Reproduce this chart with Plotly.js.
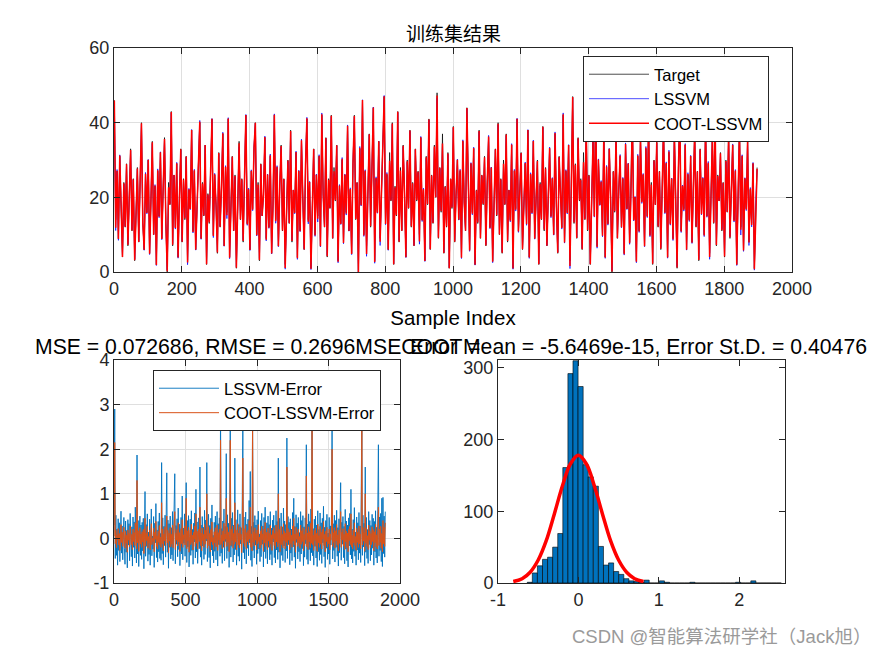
<!DOCTYPE html>
<html>
<head>
<meta charset="utf-8">
<script src="https://cdn.plot.ly/plotly-3.0.1.min.js"></script>
<style>html,body{margin:0;padding:0;background:#fff;}#chart{width:875px;height:656px;}</style>
</head>
<body>
<div id="chart"></div>
<script>
// ---- data (training set, every 4th sample) ----
const target = [
46,14,27,9,31,18,4,24,12,29,7,20,33,11,25,3,17,28,8,22,40,13,6,26,16,
30,5,19,35,10,23,2,27,15,32,9,21,36,13,0,24,18,43,7,26,12,29,4,20,33,
8,25,14,31,3,22,17,38,11,27,6,19,30,40,9,24,15,34,2,21,13,29,41,10,26,
18,5,32,12,23,37,7,28,16,41,4,20,31,11,26,1,19,35,14,25,8,30,42,13,22,
6,27,17,33,40,10,24,3,29,15,21,36,9,26,12,31,5,18,42,14,28,7,23,34,11,
25,2,19,30,13,38,8,22,16,32,4,27,11,35,20,6,29,41,14,24,1,18,33,10,26,
15,31,7,42,21,12,36,4,25,17,42,9,28,19,34,3,23,13,30,8,26,16,39,11,22,
5,29,42,14,24,0,33,18,46,10,27,7,21,37,12,31,44,3,25,16,35,9,20,30,47,
13,26,6,32,19,40,2,23,15,43,8,28,11,34,21,4,30,17,38,12,24,7,33,19,27,
10,36,14,22,3,31,18,41,6,26,13,34,20,48,9,28,16,37,5,23,12,32,1,25,17,
39,8,21,30,14,27,4,35,19,11,44,24,6,29,16,33,2,22,13,38,9,26,18,31,7,
24,36,12,28,3,20,33,15,40,10,25,5,30,18,37,8,22,14,34,1,27,17,41,11,23,
32,6,19,29,13,38,4,26,16,35,9,22,30,2,24,14,39,11,28,7,20,33,15,25,10,
37,18,5,31,21,12,42,8,27,16,34,3,23,47,13,29,9,36,19,25,6,32,14,40,11,
26,2,21,35,15,46,7,30,18,24,10,38,4,28,13,33,20,0,27,16,37,9,22,31,12,
25,5,34,17,29,8,23,42,14,20,3,31,11,36,19,26,7,33,15,41,10,24,2,30,18,
35,12,27,6,22,39,16,29,4,32,13,25,9,37,20,1,28,43,11,23,17,34,6,26,14,
31,8,21,38,12,27,3,33,18,25,10,40,15,29,5,22,36,13,44,7,26,19,32,11,24,
4,30,16,37,9,23,34,14,27,2,20,39,12,31,6,25,17,35,8,22,13,29,1,19,28
];
const cootErr = [
.05,2.15,-.12,.18,-.21,.08,-.03,.22,-.15,.11,-.27,.04,.31,-.09,.14,-.18,.02,.25,-.06,-.22,.16,-.11,.07,-.31,.19,
-.04,.12,-.19,.28,.01,-.14,.09,-.25,.21,-.07,.13,-.16,.35,-.02,-.23,1.30,-.1,.17,-.29,.03,.24,-.13,.1,-.2,.15,
-.08,.2,-.34,.07,.45,-.17,.12,-.05,.27,-.22,.04,-.11,.19,-.26,.09,.33,-.14,0,-.07,.23,-.3,.14,-.02,.38,-.18,
.06,-.24,.16,-.09,.29,-.15,.03,-.2,.8,-.12,.21,-.28,.1,-.05,.26,-.16,.07,.5,-.1,.18,-.33,.12,-.06,.24,-.19,
.09,-.13,.3,-.21,.02,.15,.6,-.25,.11,-.04,.2,-.17,.35,-.08,.13,-.29,.05,.22,-.12,.42,-.2,.08,-.03,.27,-.15,
.1,.9,-.23,.17,-.06,.25,-.31,.04,.19,-.14,.32,-.09,.07,-.26,.14,-.02,.28,-.18,.55,-.11,.16,-.24,.03,.21,-.07,
.7,-.16,.12,-.28,.23,-.05,.09,-.2,.31,-.13,.18,-.01,1.0,-.22,.06,.26,-.17,.11,-.3,.2,-.08,.37,-.14,.02,-.25,
.15,-.1,.24,-.19,.05,.3,-.27,.13,-.04,.21,-.15,2.2,-.12,.08,-.23,.17,-.06,.34,-.2,.1,-.02,.9,-.18,.25,-.09,
.14,-.3,.07,2.2,-.16,.2,-.05,.28,-.22,.11,-.13,.8,-.08,.19,-.26,.04,.33,-.15,.12,-.21,.26,-.03,.09,-.32,.16,
1.8,-.11,.22,-.18,.06,.29,-.24,.13,-.07,.18,-.14,.4,-.02,.7,-.2,.1,-.28,2.55,-.09,.15,-.17,.24,-.04,.11,-.26,
.19,-.12,.31,-.07,.03,-.22,.17,-.15,.27,-.03,.1,-.29,.21,-.1,.36,-.18,.05,.14,-.25,.23,-.06,.12,-.2,.29,-.13,
.08,-.27,.18,-.01,.24,-.16,.11,-.23,.3,-.08,.15,-.19,1.0,-.11,.2,-.3,.06,.27,-.14,.09,-.21,.33,-.05,.16,-.24,
.12,-.09,1.6,-.17,.22,-.04,.14,-.26,.19,-.12,.07,-.2,.28,-.06,.45,-.15,.1,-.31,.25,-.02,.13,-.18,.21,-.1,.04,
-.22,.3,-.13,.17,-.07,.24,-.28,.09,-.16,.2,-.03,1.4,-.19,.12,-.25,.26,-.08,.15,-.21,.34,-.11,2.6,-.14,.07,-.27,
.18,-.05,.23,-.17,.11,-.29,.32,-.1,.06,-.2,.27,-.13,.14,-.24,.2,-.02,.38,-.16,.09,-.3,.16,-.07,.25,-.19,.03,
-.12,.21,-.26,.1,-.04,.29,2.0,-.18,.13,-.09,.24,-.22,.17,-.06,.31,-.15,.08,-.28,.19,-.11,.26,.6,-.2,.14,-.03,
.22,-.17,.09,-.25,.33,-.08,.16,-.21,.12,-.3,.2,-.05,.27,-.14,.55,-.19,.07,-.24,.18,-.1,.35,-.16,.04,-.27,.23,
-.09,.14,-.2,.28,-.12,.1,-.23,.19,2.5,-.15,.25,-.06,.13,-.29,1.0,-.11,.22,-.18,.06,-.25,.3,-.04,.17,-.21,.11,
-.14,.26,-.07,.2,-.28,.15,-.1,.32,-.19,.08,-.24,.18,.7,-.16,.21,-.09,.27,-.22,.11,-.3,.4,-.12,.25,-.18,.35
];
const lssvmErr = [
.3,2.9,-.45,.52,-.38,.21,-.6,.44,-.27,.35,-.52,.1,.61,-.33,.28,-.48,.15,.47,-.22,-.58,.39,-.31,.18,-.66,.42,
-.15,.33,-.5,.56,-.09,-.41,.26,-.62,.48,-.2,.37,-.44,.7,-.12,-.55,1.87,-.35,.4,-.63,.12,.5,-.38,.3,-.47,.36,
-.28,.45,-.68,.22,1.05,-.4,.31,-.18,.55,-.51,.14,-.36,.43,-.6,.25,.66,-.39,.05,-.24,.49,-.65,.34,-.1,.78,-.43,
.19,-.53,.38,-.3,.57,-.45,.11,-.49,1.7,-.34,.46,-.59,.27,-.16,.52,-.42,.2,1.47,-.31,.41,-.67,.33,-.2,.5,-.46,
.24,-.37,.6,-.5,.08,.35,1.45,-.57,.29,-.13,.44,-.41,.68,-.25,.32,-.61,.15,.47,-.35,.95,-.48,.23,-.11,.55,-.4,
.28,1.25,-.54,.4,-.19,.51,-.64,.13,.43,-.38,.62,-.27,.2,-.58,.34,-.08,.57,-.44,1.1,-.3,.37,-.56,.1,.46,-.23,
1.6,-.42,.3,-.6,.49,-.17,.25,-.47,.63,-.36,.41,-.06,1.7,-.52,.17,.54,-.43,.29,-.66,.45,-.26,.75,-.39,.07,-.55,
.36,-.29,.5,-.48,.14,.6,-.62,.33,-.14,.46,-.4,2.8,-.33,.22,-.56,.39,-.2,.66,-.5,.27,-.07,1.9,-.45,.53,-.28,
.34,-.65,.19,2.7,-.42,.45,-.18,.58,-.53,.3,-.37,1.8,-.25,.42,-.6,.12,.64,-.4,.31,-.51,.55,-.12,.24,-.69,.38,
2.55,-.32,.48,-.46,.18,.59,-.57,.32,-.22,.43,-.39,.85,-.1,1.5,-.49,.27,-.63,2.7,-.27,.36,-.44,.51,-.15,.3,-.58,
.42,-.34,.61,-.24,.1,-.52,.4,-.41,.56,-.13,.28,-.64,.47,-.3,.7,-.45,.16,.35,-.57,.5,-.2,.31,-.48,.6,-.36,
.23,-.6,.41,-.08,.52,-.43,.29,-.55,.62,-.26,.38,-.47,1.8,-.31,.45,-.66,.19,.57,-.38,.26,-.5,.68,-.17,.39,-.54,
.31,-.28,2.25,-.45,.49,-.14,.36,-.59,.44,-.33,.21,-.5,.58,-.19,.9,-.42,.27,-.67,.53,-.09,.34,-.46,.47,-.3,.13,
-.52,.6,-.35,.4,-.23,.51,-.61,.26,-.42,.46,-.12,2.1,-.47,.32,-.58,.55,-.25,.38,-.5,.66,-.32,2.8,-.39,.22,-.6,
.43,-.18,.5,-.44,.3,-.63,.62,-.3,.2,-.49,.57,-.36,.35,-.56,.45,-.1,.72,-.41,.25,-.65,.4,-.22,.54,-.47,.12,
-.35,.47,-.58,.28,-.15,.59,2.7,-.46,.33,-.27,.52,-.53,.4,-.2,.63,-.4,.24,-.62,.44,-.32,.55,1.25,-.49,.36,-.13,
.49,-.43,.27,-.57,.65,-.24,.39,-.5,.3,-.64,.46,-.17,.56,-.37,1.1,-.46,.21,-.55,.42,-.29,.69,-.4,.14,-.6,.48,
-.26,.35,-.48,.58,-.33,.28,-.54,.44,2.7,-.38,.52,-.19,.34,-.61,1.6,-.31,.47,-.45,.2,-.56,.6,-.14,.4,-.5,.29,
-.37,.54,-.22,.45,-.6,.38,-.3,.62,-.44,.25,-.55,.43,2.1,-.4,.48,-.27,.56,-.52,.9,-.63,.92,-.34,.5,-.42,.6
];
const sampleStep = 4;
// histogram of COOT-LSSVM errors (50 bins)
const histBinStart = -0.636, histBinWidth = 0.0632;
const histCounts = [1,14,24,33,36,50,69,161,292,310,274,165,148,135,51,25,28,16,12,6,3,2,1,4,0,
                    0,3,1,0,0,0,0,1,0,0,0,0,0,0,0,0,1,0,0,3,0,0,0,0,0];
// normal fit curve
const fitX = [-0.81,-0.7,-0.6,-0.5,-0.4,-0.3,-0.2,-0.1,0,0.1,0.2,0.3,0.4,0.5,0.6,0.7,0.81];
const fitY = [2,6,15,32,59,96,135,166,178,166,135,96,59,32,15,6,2];

const titleTop = '训练集结果';
const titleLeft = 'MSE = 0.072686, RMSE = 0.2696MSECOOT =';
const titleRight = 'Error Mean = -5.6469e-15, Error St.D. = 0.40476';
const watermark = 'CSDN @智能算法研学社（Jack旭）';

// ---- build ----
const idx = target.map((_, i) => 1 + sampleStep * i);
const lssvmPred = target.map((t, i) => t - lssvmErr[i]);
const cootPred = target.map((t, i) => t - cootErr[i]);
const binCenters = histCounts.map((_, k) => histBinStart + histBinWidth * (k + 0.5));

const W = 875, H = 656;
const px = v => v / W, py = v => 1 - v / H;
const FONT = 'Liberation Sans, Arial, Helvetica, sans-serif';
const AX = '#262626';
const tickFont = {family: FONT, size: 18, color: AX};

function axisBase(extra) {
  return Object.assign({
    showline: true, linecolor: AX, linewidth: 1, mirror: 'ticks',
    ticks: 'inside', ticklen: 6, tickcolor: AX, tickwidth: 1,
    tickfont: tickFont, zeroline: false, fixedrange: true,
    gridcolor: '#dfdfdf', gridwidth: 1
  }, extra);
}

const traces = [
  {x: idx, y: target, type: 'scatter', mode: 'lines', name: 'Target',
   line: {color: '#000000', width: 0.7}, xaxis: 'x', yaxis: 'y', legend: 'legend'},
  {x: idx, y: lssvmPred, type: 'scatter', mode: 'lines', name: 'LSSVM',
   line: {color: '#0000ff', width: 0.7}, xaxis: 'x', yaxis: 'y', legend: 'legend'},
  {x: idx, y: cootPred, type: 'scatter', mode: 'lines', name: 'COOT-LSSVM',
   line: {color: '#ff0000', width: 1.5}, xaxis: 'x', yaxis: 'y', legend: 'legend'},
  {x: idx, y: lssvmErr, type: 'scatter', mode: 'lines', name: 'LSSVM-Error',
   line: {color: '#0072BD', width: 0.9}, xaxis: 'x2', yaxis: 'y2', legend: 'legend2'},
  {x: idx, y: cootErr, type: 'scatter', mode: 'lines', name: 'COOT-LSSVM-Error',
   line: {color: '#D95319', width: 1.0}, xaxis: 'x2', yaxis: 'y2', legend: 'legend2'},
  {x: binCenters, y: histCounts, type: 'bar', width: histBinWidth, showlegend: false,
   marker: {color: '#0072BD', line: {color: '#000000', width: 0.6}},
   xaxis: 'x3', yaxis: 'y3'},
  {x: fitX, y: fitY, type: 'scatter', mode: 'lines', showlegend: false,
   line: {color: '#ff0000', width: 3.5, shape: 'spline'}, xaxis: 'x3', yaxis: 'y3'}
];

const legendBase = {
  bgcolor: '#ffffff', bordercolor: AX, borderwidth: 1,
  font: {family: FONT, size: 16.5, color: '#000'},
  xanchor: 'left', yanchor: 'top', itemwidth: 60, tracegroupgap: 0,
  itemclick: false, itemdoubleclick: false
};

const layout = {
  width: W, height: H,
  margin: {l: 0, r: 0, t: 0, b: 0},
  paper_bgcolor: '#ffffff', plot_bgcolor: '#ffffff',
  showlegend: true,
  bargap: 0,
  xaxis: axisBase({domain: [px(114), px(792)], anchor: 'y', range: [0, 2000], tick0: 0, dtick: 200,
    showgrid: true,
    title: {text: 'Sample Index', font: {family: FONT, size: 20.5, color: '#000'}, standoff: 13}}),
  yaxis: axisBase({domain: [py(272), py(48)], anchor: 'x', range: [0, 60], tick0: 0, dtick: 20, showgrid: true}),
  xaxis2: axisBase({domain: [px(114), px(400)], anchor: 'y2', range: [0, 2000], tick0: 0, dtick: 500, showgrid: true}),
  yaxis2: axisBase({domain: [py(583), py(360)], anchor: 'x2', range: [-1, 4],
    tickvals: [-1, 0, 1, 2, 3, 4], ticktext: ['-1', '0', '1', '2', '3', '4'], showgrid: true}),
  xaxis3: axisBase({domain: [px(498), px(785)], anchor: 'y3', range: [-1, 2.57],
    tickvals: [-1, 0, 1, 2], ticktext: ['-1', '0', '1', '2'], showgrid: false}),
  yaxis3: axisBase({domain: [py(583), py(360)], anchor: 'x3', range: [0, 311],
    tickvals: [0, 100, 200, 300], showgrid: false}),
  legend: Object.assign({}, legendBase, {x: px(583), y: py(56)}),
  legend2: Object.assign({}, legendBase, {x: px(153), y: py(370)}),
  annotations: [
    {text: titleTop, xref: 'paper', yref: 'paper', x: px(453), y: py(33), xanchor: 'center', yanchor: 'middle',
     showarrow: false, font: {family: 'Noto Sans CJK SC, sans-serif', size: 19, color: '#000'}},
    {text: titleLeft, xref: 'paper', yref: 'paper', x: px(257), y: py(346), xanchor: 'center', yanchor: 'middle',
     showarrow: false, font: {family: FONT, size: 21.2, color: '#000'}},
    {text: titleRight, xref: 'paper', yref: 'paper', x: px(638), y: py(346), xanchor: 'center', yanchor: 'middle',
     showarrow: false, font: {family: FONT, size: 21.2, color: '#000'}},
    {text: watermark, xref: 'paper', yref: 'paper', x: px(873), y: py(636), xanchor: 'right', yanchor: 'middle',
     showarrow: false, font: {family: 'Liberation Sans, Noto Sans CJK SC, sans-serif', size: 18.5, color: '#9a9a9a'}}
  ]
};

Plotly.newPlot('chart', traces, layout, {displayModeBar: false, staticPlot: true});
</script>
</body>
</html>
